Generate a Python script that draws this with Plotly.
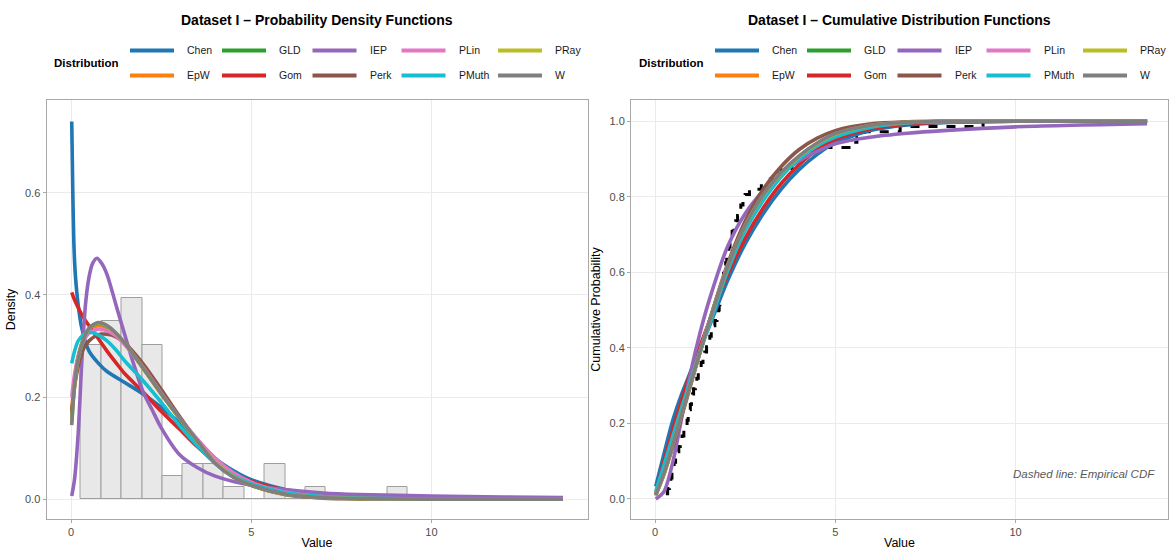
import numpy as np
import plotly.graph_objects as go

W_PX, H_PX = 1169, 550

dist_names = ["Chen", "EpW", "GLD", "Gom", "IEP", "Perk", "PLin", "PMuth", "PRay", "W"]
dist_colors = ["#1F77B4", "#FF7F0E", "#2CA02C", "#D62728", "#9467BD",
               "#8C564B", "#E377C2", "#17BECF", "#BCBD22", "#7F7F7F"]

# ---------------- histogram (density scale) ----------------
hist_start = 0.27
hist_binwidth = 0.567
hist_density = [0.301, 0.348, 0.394, 0.301, 0.046, 0.069, 0.069, 0.023,
                0.0, 0.069, 0.0, 0.023, 0.0, 0.0, 0.0, 0.023]

# ---------------- observed data (for empirical CDF) ----------------
sample_values = [0.30, 0.35, 0.40, 0.44, 0.47, 0.50, 0.53, 0.57, 0.60, 0.66, 0.70, 0.75, 0.80,
                 0.86, 0.89, 0.92, 0.95, 0.98, 1.01, 1.04, 1.07, 1.12, 1.16, 1.20, 1.24, 1.28, 1.33, 1.38,
                 1.43, 1.47, 1.52, 1.56, 1.61, 1.66, 1.72, 1.76, 1.78, 1.80, 1.82, 1.84, 1.86, 1.88, 1.90, 1.93, 1.96,
                 1.99, 2.02, 2.05, 2.08, 2.11, 2.14, 2.19, 2.24, 2.29, 2.33, 2.38, 2.44, 2.50,
                 2.62, 2.95, 3.20, 3.35, 3.50, 3.80, 3.95, 4.10, 4.50, 5.45, 5.60, 5.80, 6.80, 9.10]

# ---------------- fitted PDFs ----------------
pdf_x = [0.02, 0.1, 0.2, 0.35, 0.5, 0.75, 1.0, 1.25, 1.5, 2.0, 2.5, 3.0, 3.5,
         4.0, 4.5, 5.0, 6.0, 7.0, 8.0, 10.0, 13.65]
pdf_chen_x = [0.02, 0.05, 0.08, 0.12, 0.2, 0.3, 0.5, 0.75, 1.0, 1.5, 2.0, 2.5, 3.0,
              3.5, 4.0, 4.5, 5.0, 6.0, 7.0, 8.0, 10.0, 13.65]
pdf_chen = [0.74, 0.60, 0.50, 0.44, 0.38, 0.335, 0.29, 0.267, 0.25, 0.228, 0.206, 0.18, 0.15,
            0.115, 0.08, 0.056, 0.038, 0.018, 0.008, 0.0035, 0.0006, 0.0]
pdf_iep_x = [0.02, 0.1, 0.2, 0.3, 0.4, 0.5, 0.6, 0.72, 0.85, 1.0, 1.25, 1.5, 1.75, 2.0,
             2.25, 2.5, 3.0, 3.5, 4.0, 5.0, 6.0, 7.0, 8.0, 10.0, 12.0, 13.65]
pdf_iep = [0.006, 0.04, 0.13, 0.27, 0.38, 0.435, 0.462, 0.472, 0.462, 0.44, 0.38, 0.32, 0.262, 0.21,
           0.175, 0.14, 0.088, 0.062, 0.045, 0.027, 0.018, 0.012, 0.009, 0.006, 0.004, 0.003]
pdf_epw = [0.175, 0.235, 0.28, 0.315, 0.333, 0.34, 0.335, 0.322, 0.303, 0.256, 0.206, 0.159, 0.115,
           0.075, 0.047, 0.029, 0.01, 0.003, 0.001, 0.0, 0.0]
pdf_gld = [0.16, 0.228, 0.277, 0.314, 0.334, 0.344, 0.338, 0.324, 0.304, 0.257, 0.207, 0.159, 0.114,
           0.073, 0.045, 0.028, 0.009, 0.003, 0.001, 0.0, 0.0]
pdf_gom = [0.405, 0.39, 0.375, 0.355, 0.34, 0.315, 0.29, 0.267, 0.245, 0.21, 0.172, 0.138, 0.103,
           0.072, 0.05, 0.035, 0.017, 0.008, 0.0035, 0.0006, 0.0]
pdf_perk = [0.17, 0.22, 0.26, 0.295, 0.31, 0.322, 0.323, 0.318, 0.305, 0.265, 0.215, 0.163, 0.115,
            0.075, 0.045, 0.027, 0.008, 0.002, 0.0005, 0.0, 0.0]
pdf_plin = [0.2, 0.245, 0.28, 0.31, 0.325, 0.333, 0.33, 0.32, 0.302, 0.258, 0.208, 0.16, 0.118,
            0.08, 0.052, 0.033, 0.013, 0.005, 0.002, 0.0002, 0.0]
pdf_pmuth = [0.266, 0.29, 0.31, 0.322, 0.327, 0.322, 0.31, 0.292, 0.27, 0.232, 0.19, 0.145, 0.105,
             0.07, 0.046, 0.03, 0.012, 0.005, 0.002, 0.0003, 0.0]
pdf_pray = [0.15, 0.222, 0.274, 0.313, 0.334, 0.345, 0.339, 0.325, 0.305, 0.257, 0.207, 0.159, 0.114,
            0.072, 0.044, 0.027, 0.009, 0.003, 0.001, 0.0, 0.0]
pdf_w = [0.145, 0.225, 0.275, 0.313, 0.335, 0.346, 0.34, 0.325, 0.305, 0.257, 0.207, 0.16, 0.115,
         0.07, 0.043, 0.027, 0.009, 0.003, 0.001, 0.0, 0.0]

# ---------------- fitted CDFs ----------------
cdf_x = [0.02, 0.25, 0.5, 0.75, 1.0, 1.25, 1.5, 2.0, 2.5, 3.0, 3.5, 4.0, 4.5, 5.0,
         6.0, 7.0, 8.0, 10.0, 13.65]
cdf_chen = [0.033, 0.12, 0.21, 0.28, 0.34, 0.40, 0.455, 0.575, 0.675, 0.755, 0.82, 0.872, 0.912, 0.943,
            0.976, 0.99, 0.996, 1.0, 1.0]
cdf_epw = [0.012, 0.072, 0.15, 0.232, 0.312, 0.392, 0.468, 0.612, 0.722, 0.803, 0.862, 0.906, 0.94, 0.965,
           0.988, 0.996, 0.999, 1.0, 1.0]
cdf_gld = [0.01, 0.068, 0.146, 0.228, 0.31, 0.39, 0.467, 0.612, 0.723, 0.804, 0.863, 0.907, 0.941, 0.966,
           0.989, 0.997, 0.999, 1.0, 1.0]
cdf_gom = [0.012, 0.1, 0.185, 0.265, 0.338, 0.405, 0.468, 0.59, 0.69, 0.77, 0.835, 0.885, 0.925, 0.952,
           0.98, 0.992, 0.997, 1.0, 1.0]
cdf_iep = [0.0, 0.02, 0.10, 0.22, 0.34, 0.44, 0.525, 0.665, 0.755, 0.815, 0.86, 0.895, 0.92, 0.94,
           0.958, 0.968, 0.975, 0.985, 0.993]
cdf_perk = [0.012, 0.066, 0.14, 0.222, 0.305, 0.388, 0.468, 0.618, 0.735, 0.82, 0.88, 0.925, 0.955, 0.975,
            0.993, 0.998, 1.0, 1.0, 1.0]
cdf_plin = [0.012, 0.072, 0.15, 0.232, 0.312, 0.392, 0.468, 0.612, 0.722, 0.803, 0.862, 0.906, 0.94, 0.964,
            0.988, 0.996, 0.999, 1.0, 1.0]
cdf_pmuth = [0.02, 0.09, 0.168, 0.245, 0.318, 0.39, 0.458, 0.6, 0.71, 0.79, 0.853, 0.9, 0.935, 0.958,
             0.984, 0.995, 0.999, 1.0, 1.0]
cdf_pray = [0.008, 0.066, 0.146, 0.228, 0.31, 0.39, 0.467, 0.612, 0.723, 0.804, 0.863, 0.907, 0.941, 0.966,
            0.989, 0.997, 0.999, 1.0, 1.0]
cdf_w = [0.01, 0.068, 0.146, 0.228, 0.31, 0.39, 0.467, 0.612, 0.724, 0.805, 0.864, 0.908, 0.942, 0.967,
         0.989, 0.997, 0.999, 1.0, 1.0]

pdf_series = {
    "Chen": (pdf_chen_x, pdf_chen), "EpW": (pdf_x, pdf_epw), "GLD": (pdf_x, pdf_gld),
    "Gom": (pdf_x, pdf_gom), "IEP": (pdf_iep_x, pdf_iep), "Perk": (pdf_x, pdf_perk),
    "PLin": (pdf_x, pdf_plin), "PMuth": (pdf_x, pdf_pmuth), "PRay": (pdf_x, pdf_pray),
    "W": (pdf_x, pdf_w),
}
cdf_series = {
    "Chen": cdf_chen, "EpW": cdf_epw, "GLD": cdf_gld, "Gom": cdf_gom, "IEP": cdf_iep,
    "Perk": cdf_perk, "PLin": cdf_plin, "PMuth": cdf_pmuth, "PRay": cdf_pray, "W": cdf_w,
}

FONT = "Liberation Sans, Arial, sans-serif"
LINE_W = 3.6


def px_x(p):
    return p / W_PX


def px_y(p):
    return 1 - p / H_PX


fig = go.Figure()

# histogram
n_bins = len(hist_density)
bin_centers = [hist_start + hist_binwidth * (i + 0.5) for i in range(n_bins)]
fig.add_trace(go.Bar(x=bin_centers, y=hist_density, width=[hist_binwidth] * n_bins,
                     marker=dict(color="#E8E8E8", line=dict(color="#9E9E9E", width=1)),
                     xaxis="x", yaxis="y", showlegend=False, hoverinfo="skip"))

for name, col in zip(dist_names, dist_colors):
    xs, ys = pdf_series[name]
    fig.add_trace(go.Scatter(x=xs, y=ys, mode="lines", name=name,
                             line=dict(color=col, width=LINE_W, shape="spline", smoothing=0.8),
                             xaxis="x", yaxis="y", showlegend=False))

# empirical CDF
sv = np.sort(np.array(sample_values))
ecdf_p = np.arange(1, len(sv) + 1) / len(sv)
fig.add_trace(go.Scatter(x=sv, y=ecdf_p, mode="lines",
                         line=dict(color="black", width=3, dash="dash", shape="hv"),
                         xaxis="x2", yaxis="y2", showlegend=False, name="Empirical CDF"))

for name, col in zip(dist_names, dist_colors):
    fig.add_trace(go.Scatter(x=cdf_x, y=cdf_series[name], mode="lines", name=name,
                             line=dict(color=col, width=LINE_W, shape="spline", smoothing=0.8),
                             xaxis="x2", yaxis="y2", showlegend=False))

# geometry
L_DOM = [px_x(46.5), px_x(587.5)]
R_DOM = [px_x(631), px_x(1168)]
Y_DOM = [px_y(519), px_y(100)]

axis_common = dict(showgrid=True, gridcolor="#EBEBEB", gridwidth=1, zeroline=False,
                   showline=True, mirror=True, linecolor="#A8A8A8", linewidth=1,
                   ticks="outside", ticklen=3, tickcolor="#A8A8A8",
                   tickfont=dict(family=FONT, size=11, color="#4D4D4D"),
                   automargin=False)

fig.update_layout(
    width=W_PX, height=H_PX,
    margin=dict(l=0, r=0, t=0, b=0),
    paper_bgcolor="white", plot_bgcolor="white",
    font=dict(family=FONT, color="black"),
    bargap=0,
    xaxis=dict(domain=L_DOM, range=[-0.68, 14.33], tickvals=[0, 5, 10], anchor="y",
               title=dict(text="Value", font=dict(size=12.5, family=FONT), standoff=4), **axis_common),
    yaxis=dict(domain=Y_DOM, range=[-0.039, 0.782], tickvals=[0.0, 0.2, 0.4, 0.6],
               ticktext=["0.0", "0.2", "0.4", "0.6"], anchor="x",
               title=dict(text="Density", font=dict(size=12.5, family=FONT), standoff=6), **axis_common),
    xaxis2=dict(domain=R_DOM, range=[-0.666, 14.23], tickvals=[0, 5, 10], anchor="y2",
                title=dict(text="Value", font=dict(size=12.5, family=FONT), standoff=4), **axis_common),
    yaxis2=dict(domain=Y_DOM, range=[-0.053, 1.056], tickvals=[0, 0.2, 0.4, 0.6, 0.8, 1.0],
                ticktext=["0.0", "0.2", "0.4", "0.6", "0.8", "1.0"], anchor="x2",
                title=dict(text="Cumulative Probability", font=dict(size=12.5, family=FONT), standoff=6),
                **axis_common),
)

annotations = []
shapes = []

# titles
annotations.append(dict(text="<b>Dataset I – Probability Density Functions</b>", xref="paper", yref="paper",
                        x=(L_DOM[0] + L_DOM[1]) / 2, y=px_y(20), xanchor="center", yanchor="middle",
                        showarrow=False, font=dict(family=FONT, size=14, color="black")))
annotations.append(dict(text="<b>Dataset I – Cumulative Distribution Functions</b>", xref="paper", yref="paper",
                        x=(R_DOM[0] + R_DOM[1]) / 2, y=px_y(20), xanchor="center", yanchor="middle",
                        showarrow=False, font=dict(family=FONT, size=14, color="black")))

# custom legends (two rows, column-major order)
col_line_x = [130, 222, 312.5, 401.5, 498]
row_y = [50.5, 75.5]
for offset in [0, 585]:
    annotations.append(dict(text="<b>Distribution</b>", xref="paper", yref="paper",
                            x=px_x(52 + offset), y=px_y(62.5), xanchor="left", yanchor="middle",
                            showarrow=False, font=dict(family=FONT, size=11.5, color="black")))
    for i, (name, col) in enumerate(zip(dist_names, dist_colors)):
        c, r = i // 2, i % 2
        x0 = col_line_x[c] + offset
        y0 = row_y[r]
        shapes.append(dict(type="line", xref="paper", yref="paper",
                           x0=px_x(x0), x1=px_x(x0 + 44), y0=px_y(y0), y1=px_y(y0),
                           line=dict(color=col, width=4)))
        annotations.append(dict(text=name, xref="paper", yref="paper",
                                x=px_x(x0 + 55), y=px_y(y0), xanchor="left", yanchor="middle",
                                showarrow=False, font=dict(family=FONT, size=10.5, color="#1A1A1A")))

annotations.append(dict(text="<i>Dashed line: Empirical CDF</i>", xref="x2", yref="y2",
                        x=13.93, y=0.065, xanchor="right", yanchor="middle", showarrow=False,
                        font=dict(family=FONT, size=11.5, color="#595959")))

fig.update_layout(annotations=annotations, shapes=shapes)

fig.write_html("out.html")
